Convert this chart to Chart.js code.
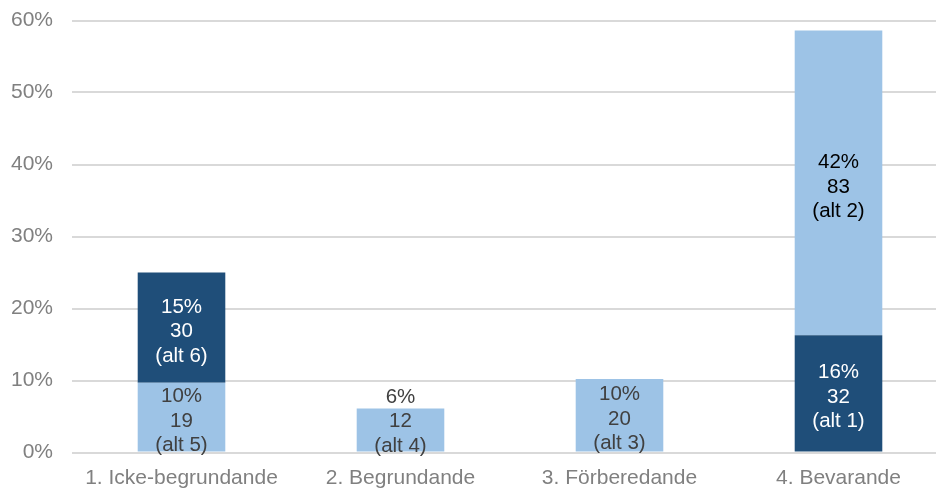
<!DOCTYPE html>
<html>
<head>
<meta charset="utf-8">
<script src="https://cdn.jsdelivr.net/npm/chart.js@4.4.1/dist/chart.umd.min.js"></script>
<style>
  html, body { margin: 0; padding: 0; background: #fff; overflow: hidden; }
  #wrap { position: relative; width: 948px; height: 491px; }
</style>
</head>
<body>
<div id="wrap"><canvas id="c"></canvas></div>
<script>
// ---- data ----
const categories = ['1. Icke-begrundande', '2. Begrundande', '3. Förberedande', '4. Bevarande'];
const bottomValues = [9.7, 6.1, 10.2, 16.3];     // percent
const topValues    = [15.3, null, null, 42.3];   // percent
const bottomCounts = [19, 12, 20, 32];
const topCounts    = [30, null, null, 83];
const bottomAlts   = ['(alt 5)', '(alt 4)', '(alt 3)', '(alt 1)'];
const topAlts      = ['(alt 6)', null, null, '(alt 2)'];
const yTicks       = [0, 10, 20, 30, 40, 50, 60];

const DARK = '#1F4E79', LIGHT = '#9DC3E6';
const FONT = '"Liberation Sans", Arial, sans-serif';

const labelPlugin = {
  id: 'segLabels',
  afterDatasetsDraw(chart) {
    const ctx = chart.ctx;
    const yScale = chart.scales.y;
    const zeroY = yScale.getPixelForValue(0);
    const lineH = 24.5;
    ctx.save();
    ctx.font = '20.5px ' + FONT;
    ctx.textAlign = 'center';
    ctx.textBaseline = 'middle';
    chart.data.datasets.forEach((ds, di) => {
      const meta = chart.getDatasetMeta(di);
      meta.data.forEach((bar, i) => {
        const v = ds.data[i];
        if (v == null) return;
        const lines = [Math.round(v) + '%', String(ds.counts[i]), ds.alts[i]];
        const top = Math.min(bar.y, bar.base), bot = Math.max(bar.y, bar.base);
        let cy = (top + bot) / 2 + 4;
        const maxC = zeroY - 31;
        if (cy > maxC) cy = maxC;
        ctx.fillStyle = ds.textColors[i];
        lines.forEach((t, k) => ctx.fillText(t, bar.x, cy + (k - 1) * lineH));
      });
    });
    ctx.restore();
  }
};

new Chart(document.getElementById('c'), {
  type: 'bar',
  data: {
    labels: categories,
    datasets: [
      {
        data: bottomValues,
        counts: bottomCounts,
        alts: bottomAlts,
        backgroundColor: [LIGHT, LIGHT, LIGHT, DARK],
        textColors: ['#404040', '#404040', '#404040', '#FFFFFF'],
        barPercentage: 0.4,
        categoryPercentage: 1.0
      },
      {
        data: topValues,
        counts: topCounts,
        alts: topAlts,
        backgroundColor: [DARK, LIGHT, LIGHT, LIGHT],
        textColors: ['#FFFFFF', '#404040', '#404040', '#000000'],
        barPercentage: 0.4,
        categoryPercentage: 1.0
      }
    ]
  },
  options: {
    responsive: true,
    maintainAspectRatio: false,
    animation: false,
    layout: { padding: { top: 20.5, right: 0, bottom: 0, left: 0 } },
    plugins: { legend: { display: false }, tooltip: { enabled: false } },
    scales: {
      x: {
        stacked: true,
        afterFit(scale) { scale.height = 38.5; scale.paddingLeft = 0; scale.paddingRight = 0; },
        grid: { display: false, drawTicks: false },
        border: { display: false },
        ticks: { color: '#808080', font: { size: 21, family: FONT }, padding: 13, maxRotation: 0 }
      },
      y: {
        stacked: true,
        min: 0, max: 60,
        afterBuildTicks(scale) { scale.ticks = yTicks.map(v => ({ value: v })); },
        afterFit(scale) { scale.width = 72; scale.paddingTop = 0; scale.paddingBottom = 0; },
        grid: { color: '#D9D9D9', lineWidth: 2, drawTicks: false },
        border: { display: false },
        ticks: { color: '#808080', font: { size: 21, family: FONT }, padding: 19,
                 callback: v => v + '%' }
      }
    }
  },
  plugins: [labelPlugin]
});
</script>
</body>
</html>
